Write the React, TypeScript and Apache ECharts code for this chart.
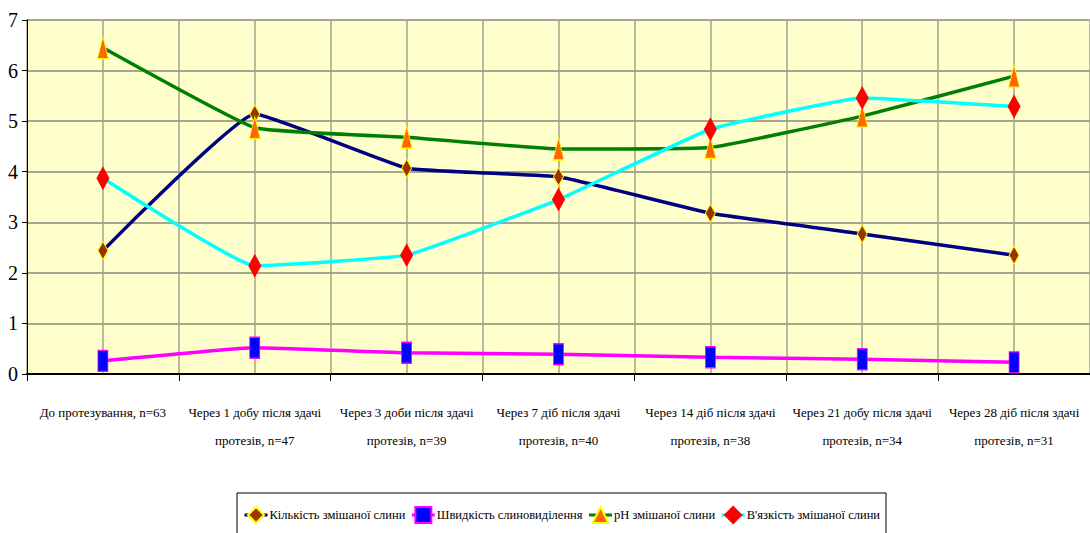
import React, { useEffect, useRef } from "react";
import * as echarts from "echarts";

// Periods of observation (tick labels of the category axis)
const categories: string[] = [
  "До протезування, n=63",
  "Через 1 добу після здачі\nпротезів, n=47",
  "Через 3 доби після здачі\nпротезів, n=39",
  "Через 7 діб після здачі\nпротезів, n=40",
  "Через 14 діб після здачі\nпротезів, n=38",
  "Через 21 добу після здачі\nпротезів, n=34",
  "Через 28 діб після здачі\nпротезів, n=31",
];

const seriesNames: string[] = [
  "Кількість змішаної слини",
  "Швидкість слиновиділення",
  "pH змішаної слини",
  "В'язкість змішаної слини",
];

const amount: number[] = [2.44, 5.14, 4.07, 3.9, 3.18, 2.77, 2.35];
const rate: number[] = [0.26, 0.52, 0.42, 0.39, 0.33, 0.29, 0.23];
const ph: number[] = [6.45, 4.87, 4.68, 4.45, 4.48, 5.1, 5.89];
const viscosity: number[] = [3.87, 2.14, 2.35, 3.45, 4.84, 5.46, 5.29];

const yTicks = { min: 0, max: 7, interval: 1 };

const SERIF = "Times New Roman, Liberation Serif, serif";

export default function App() {
  const ref = useRef<HTMLDivElement>(null);

  useEffect(() => {
    if (!ref.current) return;
    const chart = echarts.init(ref.current, undefined, { renderer: "svg" });

    const styles = [
      { line: "#000080", symbol: "diamond", size: [10, 18], fill: "#993300", border: "#FFFF00" },
      { line: "#FF00FF", symbol: "rect", size: [10, 21], fill: "#0000FF", border: "#FF00FF" },
      { line: "#008000", symbol: "triangle", size: [11, 22], fill: "#FF6600", border: "#FFFF00" },
      { line: "#00FFFF", symbol: "diamond", size: [12, 22], fill: "#FF0000", border: "#FF0000" },
    ];
    const values = [amount, rate, ph, viscosity];

    chart.setOption({
      animation: false,
      backgroundColor: "#ffffff",
      textStyle: { fontFamily: SERIF },
      grid: {
        left: 27,
        right: 0,
        top: 20,
        bottom: 159,
        show: true,
        backgroundColor: "#FFFFCC",
        borderWidth: 0,
      },
      legend: {
        data: seriesNames,
        left: 237,
        top: 493,
        padding: [13, 6, 30, 6],
        itemWidth: 23,
        itemHeight: 20,
        itemGap: 5,
        borderColor: "#000000",
        borderWidth: 1,
        lineStyle: { width: 3 },
        textStyle: { fontFamily: SERIF, fontSize: 12.5, color: "#000000", padding: [0, 0, 0, -3] },
      },
      xAxis: [
        {
          type: "category",
          data: categories,
          boundaryGap: true,
          axisLine: { lineStyle: { color: "#000000", width: 2 } },
          axisTick: { show: true, length: 7, lineStyle: { color: "#000000", width: 1 } },
          axisLabel: {
            interval: 0,
            margin: 24,
            fontFamily: SERIF,
            fontSize: 13,
            lineHeight: 28,
            color: "#000000",
          },
          splitLine: { show: false },
        },
        {
          // half-category vertical grid
          type: "value",
          position: "top",
          min: 0,
          max: 14,
          interval: 1,
          axisLine: { show: false },
          axisTick: { show: false },
          axisLabel: { show: false },
          splitLine: { show: true, lineStyle: { color: "#a3a28c", width: 1.5 } },
        },
      ],
      yAxis: {
        type: "value",
        min: yTicks.min,
        max: yTicks.max,
        interval: yTicks.interval,
        axisLine: { show: true, lineStyle: { color: "#000000", width: 1 } },
        axisTick: { show: true, length: 5, lineStyle: { color: "#000000" } },
        axisLabel: { fontFamily: SERIF, fontSize: 20, color: "#000000", margin: 9 },
        splitLine: { show: true, lineStyle: { color: "#8a8978", width: 1.5 } },
      },
      series: seriesNames.map((name, i) => ({
        name,
        type: "line",
        xAxisIndex: 0,
        data: values[i],
        smooth: 0.1,
        symbol: styles[i].symbol,
        symbolSize: styles[i].size,
        lineStyle: { color: styles[i].line, width: 3.5 },
        itemStyle: {
          color: styles[i].fill,
          borderColor: styles[i].border,
          borderWidth: 1,
        },
        z: 3 + i,
      })),
    });

    return () => chart.dispose();
  }, []);

  return (
    <div
      ref={ref}
      style={{ position: "fixed", left: 0, top: 0, width: 1090, height: 533 }}
    />
  );
}
